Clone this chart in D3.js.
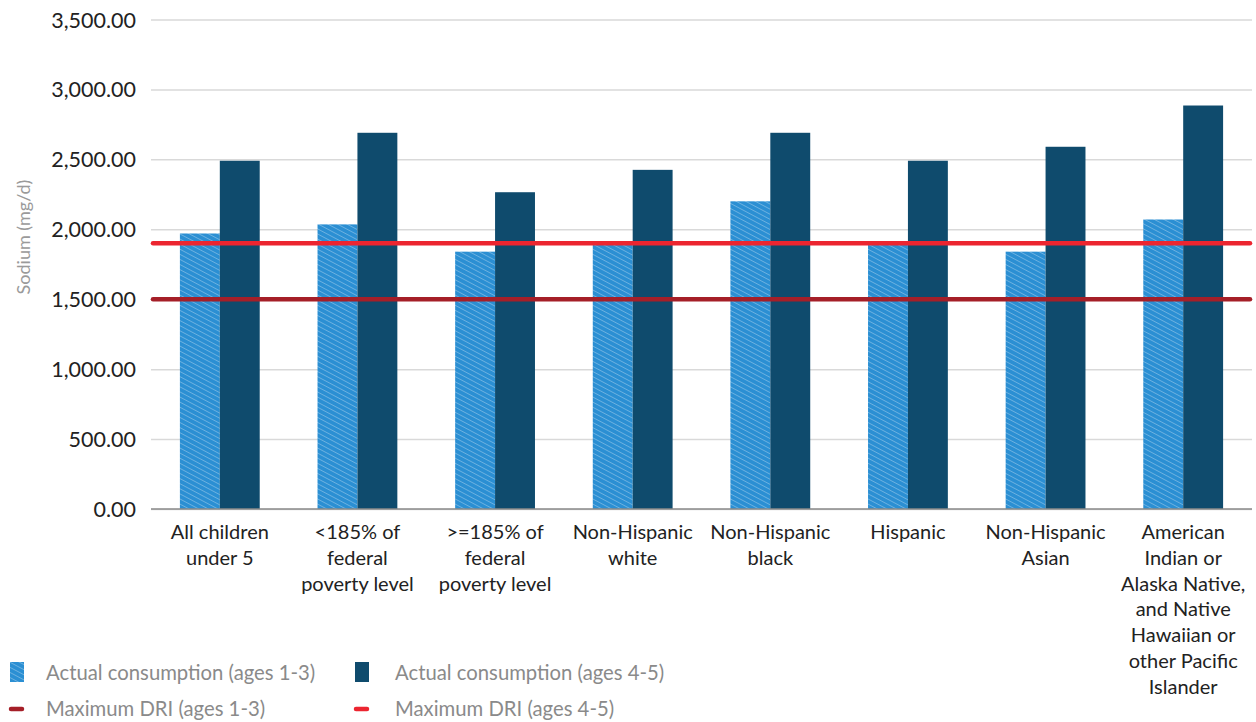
<!DOCTYPE html>
<html>
<head>
<meta charset="utf-8">
<script src="https://cdn.jsdelivr.net/npm/d3@7"></script>
<style>
  html, body { margin: 0; padding: 0; background: #fff; }
  svg { display: block; }
  text { font-family: Lato, "Open Sans", sans-serif; }
</style>
</head>
<body>
<svg id="chart" width="1256" height="722"></svg>
<script>
// ---- data ----
const categories = [
  ["All children", "under 5"],
  ["<185% of", "federal", "poverty level"],
  [">=185% of", "federal", "poverty level"],
  ["Non-Hispanic", "white"],
  ["Non-Hispanic", "black"],
  ["Hispanic"],
  ["Non-Hispanic", "Asian"],
  ["American", "Indian or", "Alaska Native,", "and Native", "Hawaiian or", "other Pacific", "Islander"]
];
const ages13 = [1970, 2035, 1840, 1910, 2200, 1915, 1840, 2070];
const ages45 = [2490, 2690, 2265, 2425, 2690, 2490, 2590, 2885];
const driAges13 = 1500;
const driAges45 = 1900;
const yTicks = [0, 500, 1000, 1500, 2000, 2500, 3000, 3500];
const seriesNames = ["Actual consumption (ages 1-3)", "Actual consumption (ages 4-5)"];
const lineNames = ["Maximum DRI (ages 1-3)", "Maximum DRI (ages 4-5)"];

// ---- layout ----
const svg = d3.select("#chart");
const mLeft = 151, mRight = 1252, mTop = 19.5, mBottom = 509;
const lightBlue = "#2b8fd3", darkBlue = "#0f4b6d", brightRed = "#ec2530", darkRed = "#a51f28";

const defs = svg.append("defs");
const pat = defs.append("pattern")
  .attr("id", "hatch").attr("patternUnits", "userSpaceOnUse")
  .attr("width", 4.5).attr("height", 4.5)
  .attr("patternTransform", "rotate(-62)");
pat.append("rect").attr("width", 4.5).attr("height", 4.5).attr("fill", lightBlue);
pat.append("line").attr("x1", 0).attr("y1", 0).attr("x2", 0).attr("y2", 4.5)
  .attr("stroke", "#ffffff").attr("stroke-opacity", 0.5).attr("stroke-width", 1.1);

const x = d3.scaleBand().domain(d3.range(categories.length)).range([mLeft, mRight])
  .paddingInner(0.42).paddingOuter(0.21);
const sub = d3.scaleBand().domain([0, 1]).range([0, x.bandwidth()]);
const y = d3.scaleLinear().domain([0, 3500]).range([mBottom, mTop]);

// gridlines
const yAxis = d3.axisLeft(y).tickValues(yTicks).tickSize(-(mRight - mLeft))
  .tickFormat(d3.format(",.2f")).tickPadding(15);
const gy = svg.append("g").attr("transform", `translate(${mLeft},0)`).call(yAxis);
gy.select(".domain").remove();
gy.selectAll(".tick line").attr("stroke", "#d9d9d9").attr("stroke-width", 1.5);
gy.selectAll(".tick text").attr("fill", "#222").style("font-size", "21.5px")
  .attr("dy", "0.35em");

// y title
svg.append("text")
  .attr("transform", `translate(30,237) rotate(-90)`)
  .attr("text-anchor", "middle").attr("fill", "#9a9a9a").style("font-size", "18px")
  .text("Sodium (mg/d)");

// bars
const groups = svg.append("g").selectAll("g").data(categories).join("g")
  .attr("transform", (d, i) => `translate(${x(i)},0)`);
groups.append("rect")
  .attr("x", sub(0)).attr("width", sub.bandwidth())
  .attr("y", (d, i) => y(ages13[i])).attr("height", (d, i) => y(0) - y(ages13[i]))
  .attr("fill", "url(#hatch)");
groups.append("rect")
  .attr("x", sub(1)).attr("width", sub.bandwidth())
  .attr("y", (d, i) => y(ages45[i])).attr("height", (d, i) => y(0) - y(ages45[i]))
  .attr("fill", darkBlue);

// x axis
const xAxis = d3.axisBottom(x).tickSize(0).tickFormat("");
const gx = svg.append("g").attr("transform", `translate(0,${mBottom})`).call(xAxis);
gx.select(".domain").attr("stroke", "#8a8a8a").attr("stroke-width", 1.5)
  .attr("d", `M${mLeft},0H${mRight}`);
gx.selectAll(".tick").each(function (d) {
  const t = d3.select(this).append("text").attr("text-anchor", "middle")
    .attr("fill", "#222").style("font-size", "20px");
  categories[d].forEach((line, k) => {
    t.append("tspan").attr("x", 0).attr("y", 30 + k * 25.8).text(line);
  });
});

// DRI lines
svg.append("line").attr("x1", mLeft + 2).attr("x2", mRight - 2)
  .attr("y1", y(driAges13)).attr("y2", y(driAges13))
  .attr("stroke", darkRed).attr("stroke-width", 4.5).attr("stroke-linecap", "round");
svg.append("line").attr("x1", mLeft + 2).attr("x2", mRight - 2)
  .attr("y1", y(driAges45)).attr("y2", y(driAges45))
  .attr("stroke", brightRed).attr("stroke-width", 4.5).attr("stroke-linecap", "round");

// legend
const legend = svg.append("g");
const colX = [12, 357], textX = [46, 395], rowY = [673, 709];
[0, 1].forEach(i => {
  legend.append("rect").attr("x", colX[i] - 2).attr("y", rowY[0] - 11)
    .attr("width", 14).attr("height", 20)
    .attr("fill", i === 0 ? "url(#hatch)" : darkBlue);
  legend.append("text").attr("x", textX[i]).attr("y", rowY[0]).attr("dy", "0.35em")
    .attr("fill", "#8a8a8a").style("font-size", "20.3px").text(seriesNames[i]);
  legend.append("line").attr("x1", colX[i] - 1).attr("x2", colX[i] + 10)
    .attr("y1", rowY[1]).attr("y2", rowY[1])
    .attr("stroke", i === 0 ? darkRed : brightRed).attr("stroke-width", 4.5)
    .attr("stroke-linecap", "round");
  legend.append("text").attr("x", textX[i]).attr("y", rowY[1]).attr("dy", "0.35em")
    .attr("fill", "#8a8a8a").style("font-size", "20.3px").text(lineNames[i]);
});
</script>
</body>
</html>
